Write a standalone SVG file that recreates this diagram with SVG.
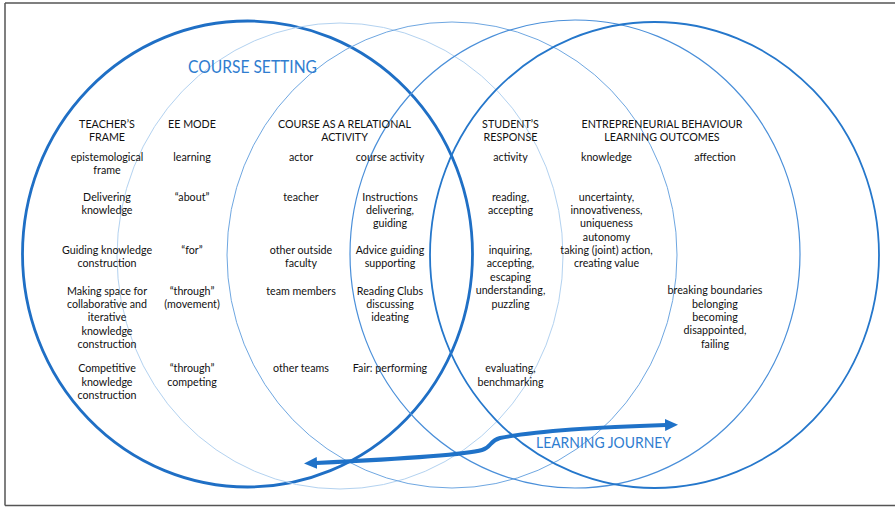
<svg xmlns="http://www.w3.org/2000/svg" width="895" height="507" viewBox="0 0 895 507">
  <style>
    .ring { fill: none; }
    .t { font-family: Lato, "Liberation Sans", sans-serif; font-size: 10.7px; fill: #111111; text-anchor: middle; }
    .blue { font-family: Lato, "Liberation Sans", sans-serif; fill: #2f7dd0; text-anchor: middle; }
  </style>
  <defs>
    <marker id="head" viewBox="0 0 13 12" refX="1" refY="6" markerWidth="13" markerHeight="12" markerUnits="userSpaceOnUse" orient="auto-start-reverse">
      <path d="M0,0 L13,6 L0,12 Z" fill="#1f72c8"/>
    </marker>
  </defs>

  <rect x="0" y="0" width="895" height="507" fill="#ffffff"/>
  <!-- frame -->
  <g id="frame" stroke="#555555" stroke-width="1.5" fill="none">
    <path d="M5,3 H895"/>
    <path d="M5,3 V505.5"/>
    <path d="M5,505.5 H895"/>
  </g>

  <!-- overlapping rings -->
  <g id="rings">
    <ellipse id="ring-course-setting" class="ring" cx="247.5" cy="254" rx="225" ry="233" stroke="#1f6fc5" stroke-width="2.8"/>
    <ellipse id="ring-2" class="ring" cx="340" cy="256" rx="223" ry="233" stroke="#b3d2f0" stroke-width="1"/>
    <ellipse id="ring-3" class="ring" cx="452" cy="255" rx="225" ry="233" stroke="#6fa7e1" stroke-width="1"/>
    <ellipse id="ring-4" class="ring" cx="575" cy="254" rx="225" ry="234" stroke="#4a8fd9" stroke-width="1.2"/>
    <ellipse id="ring-learning" class="ring" cx="654.5" cy="255" rx="224.5" ry="233" stroke="#2577cb" stroke-width="1.8"/>
  </g>

  <!-- learning journey arrow -->
  <g id="connectors">
    <path id="journey" d="M316,463 C400,459 465,455 482,450 C492,447 489,441 500,438 C540,430 600,427 666,425" fill="none" stroke="#1f72c8" stroke-width="4" marker-start="url(#head)" marker-end="url(#head)"/>
  </g>

  <g id="title-course-setting">
    <text class="blue" x="252.5" y="73" font-size="17" textLength="129" lengthAdjust="spacingAndGlyphs">COURSE SETTING</text>
  </g>
  <g id="title-learning-journey">
    <text class="blue" x="603.5" y="447.7" font-size="15" textLength="135" lengthAdjust="spacingAndGlyphs">LEARNING JOURNEY</text>
  </g>

  <!-- column: teacher's frame -->
  <g id="col-teachers-frame" class="t">
    <text class="t" x="107" y="127.7">TEACHER’S</text>
    <text class="t" x="107" y="141.2">FRAME</text>
    <text class="t" x="107" y="160.5">epistemological</text>
    <text class="t" x="107" y="173.9">frame</text>
    <text class="t" x="107" y="200.5">Delivering</text>
    <text class="t" x="107" y="213.9">knowledge</text>
    <text class="t" x="107" y="254">Guiding knowledge</text>
    <text class="t" x="107" y="267.4">construction</text>
    <text class="t" x="107" y="294.5">Making space for</text>
    <text class="t" x="107" y="307.9">collaborative and</text>
    <text class="t" x="107" y="321.3">iterative</text>
    <text class="t" x="107" y="334.7">knowledge</text>
    <text class="t" x="107" y="348.1">construction</text>
    <text class="t" x="107" y="372.3">Competitive</text>
    <text class="t" x="107" y="385.7">knowledge</text>
    <text class="t" x="107" y="399.1">construction</text>
  </g>

  <!-- column: EE mode -->
  <g id="col-ee-mode">
    <text class="t" x="192" y="127.7">EE MODE</text>
    <text class="t" x="192" y="160.5">learning</text>
    <text class="t" x="192" y="200.5">“about”</text>
    <text class="t" x="192" y="254">“for”</text>
    <text class="t" x="192" y="294.5">“through”</text>
    <text class="t" x="192" y="307.9">(movement)</text>
    <text class="t" x="192" y="372.3">“through”</text>
    <text class="t" x="192" y="385.7">competing</text>
  </g>

  <!-- column group: course as a relational activity -->
  <g id="col-relational-activity">
    <text class="t" x="344.5" y="127.7">COURSE AS A RELATIONAL</text>
    <text class="t" x="344.5" y="141.2">ACTIVITY</text>
    <text class="t" x="301" y="160.5">actor</text>
    <text class="t" x="301" y="200.5">teacher</text>
    <text class="t" x="301" y="254">other outside</text>
    <text class="t" x="301" y="267.4">faculty</text>
    <text class="t" x="301" y="294.5">team members</text>
    <text class="t" x="301" y="372.3">other teams</text>
    <text class="t" x="390" y="160.5">course activity</text>
    <text class="t" x="390" y="200.5">Instructions</text>
    <text class="t" x="390" y="213.9">delivering,</text>
    <text class="t" x="390" y="227.3">guiding</text>
    <text class="t" x="390" y="254">Advice guiding</text>
    <text class="t" x="390" y="267.4">supporting</text>
    <text class="t" x="390" y="294.5">Reading Clubs</text>
    <text class="t" x="390" y="307.9">discussing</text>
    <text class="t" x="390" y="321.3">ideating</text>
    <text class="t" x="390" y="372.3">Fair: performing</text>
  </g>

  <!-- column: student's response -->
  <g id="col-students-response">
    <text class="t" x="510.5" y="127.7">STUDENT’S</text>
    <text class="t" x="510.5" y="141.2">RESPONSE</text>
    <text class="t" x="510.5" y="160.5">activity</text>
    <text class="t" x="510.5" y="200.5">reading,</text>
    <text class="t" x="510.5" y="213.9">accepting</text>
    <text class="t" x="510.5" y="254">inquiring,</text>
    <text class="t" x="510.5" y="267.4">accepting,</text>
    <text class="t" x="510.5" y="280.8">escaping</text>
    <text class="t" x="510.5" y="294.2">understanding,</text>
    <text class="t" x="510.5" y="307.6">puzzling</text>
    <text class="t" x="510.5" y="372.3">evaluating,</text>
    <text class="t" x="510.5" y="385.7">benchmarking</text>
  </g>

  <!-- column group: entrepreneurial behaviour learning outcomes -->
  <g id="col-learning-outcomes">
    <text class="t" x="662" y="127.7">ENTREPRENEURIAL BEHAVIOUR</text>
    <text class="t" x="662" y="141.2">LEARNING OUTCOMES</text>
    <text class="t" x="606.5" y="160.5">knowledge</text>
    <text class="t" x="606.5" y="200.5">uncertainty,</text>
    <text class="t" x="606.5" y="213.9">innovativeness,</text>
    <text class="t" x="606.5" y="227.3">uniqueness</text>
    <text class="t" x="606.5" y="240.7">autonomy</text>
    <text class="t" x="606.5" y="254.1">taking (joint) action,</text>
    <text class="t" x="606.5" y="267.4">creating value</text>
    <text class="t" x="715" y="160.5">affection</text>
    <text class="t" x="715" y="294.2">breaking boundaries</text>
    <text class="t" x="715" y="307.6">belonging</text>
    <text class="t" x="715" y="321">becoming</text>
    <text class="t" x="715" y="334.4">disappointed,</text>
    <text class="t" x="715" y="347.8">failing</text>
  </g>
</svg>
